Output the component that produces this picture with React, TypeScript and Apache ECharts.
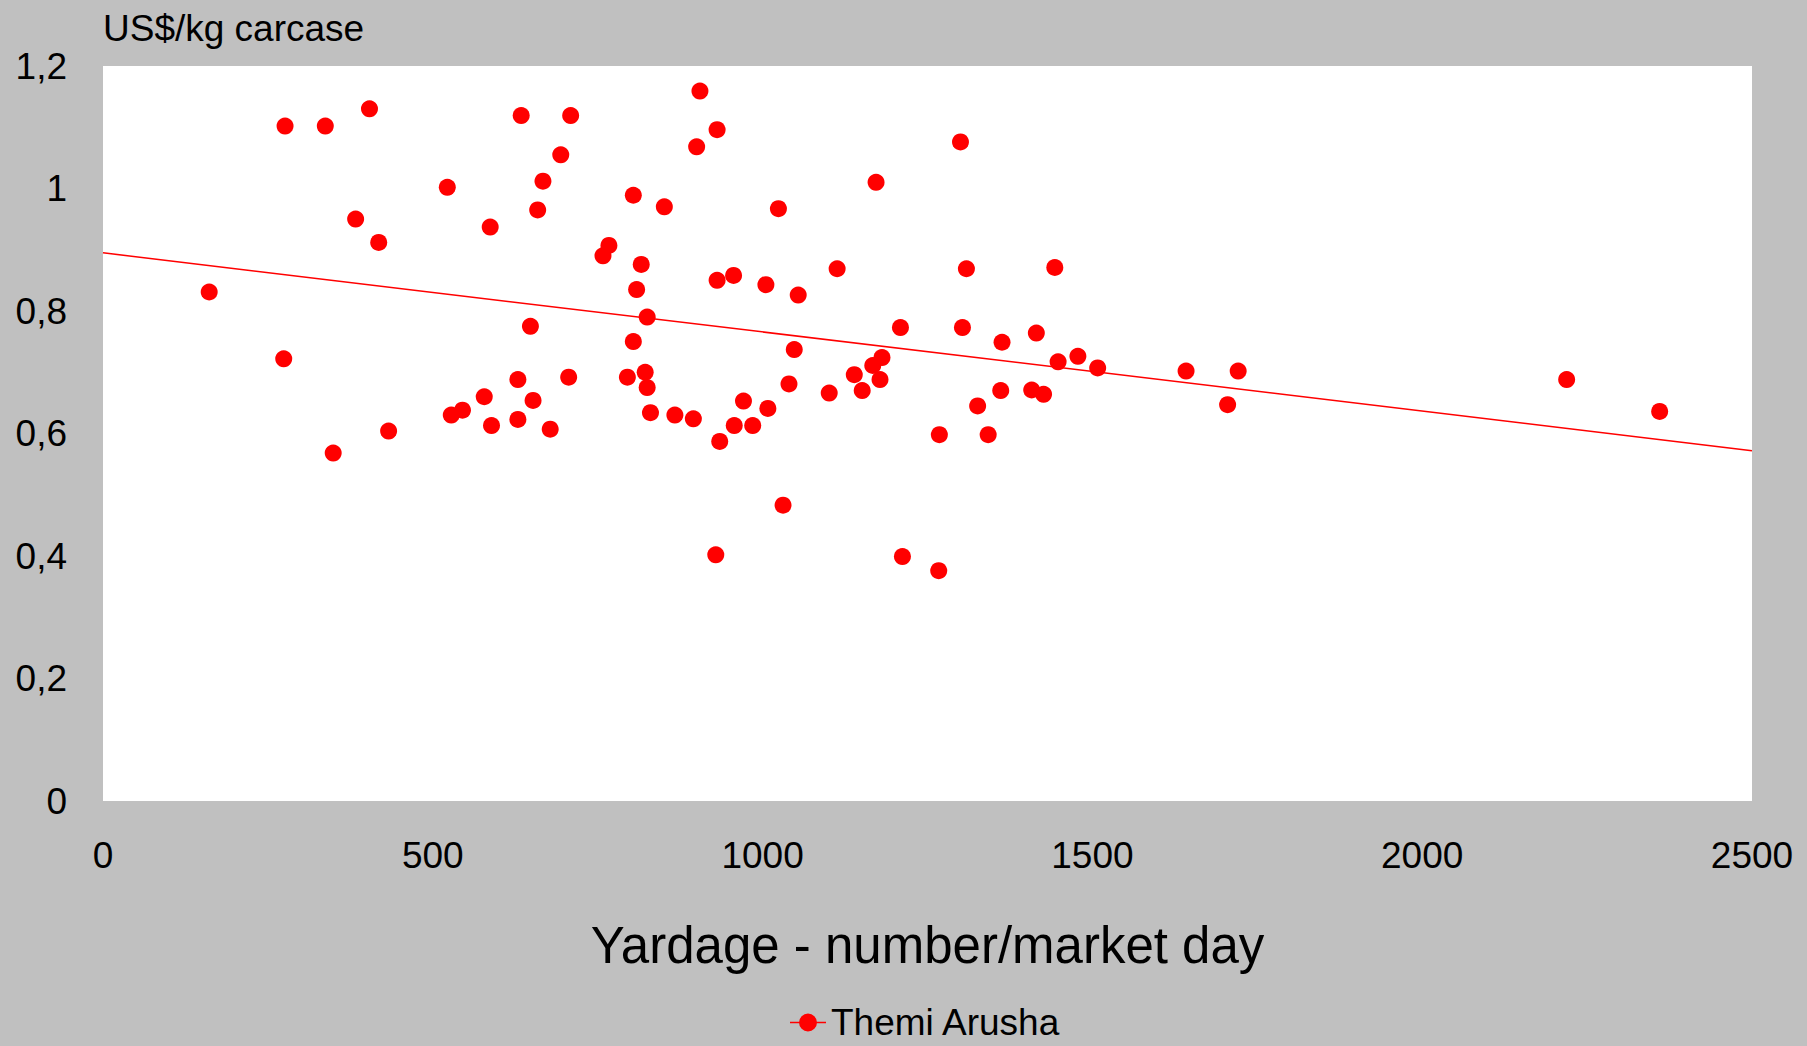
import React, { useEffect, useRef } from "react";
import * as echarts from "echarts";

const yardage: number[] = [
  161, 276, 337, 404, 274, 383, 418, 349, 433, 522,
  528, 545, 578, 589, 587, 629, 629, 634, 648, 652,
  659, 667, 678, 694, 706, 709, 758, 767, 795, 804,
  804, 809, 816, 822, 825, 825, 830, 851, 867, 895,
  900, 905, 929, 931, 931, 935, 956, 957, 971, 985,
  1005, 1008, 1024, 1031, 1040, 1048, 1054, 1101, 1113, 1139,
  1151, 1167, 1172, 1178, 1181, 1209, 1212, 1267, 1268, 1300,
  1303, 1309, 1326, 1342, 1361, 1363, 1408, 1415, 1426, 1443,
  1448, 1478, 1508, 1642, 1705, 1721, 2219, 2360,
];

const price: number[] = [
  0.831, 1.102, 1.102, 1.13, 0.722, 0.95, 0.912, 0.568, 0.604, 1.002,
  0.63, 0.638, 0.66, 0.613, 0.937, 0.688, 0.623, 1.119, 0.775, 0.654,
  0.965, 1.012, 0.607, 1.055, 0.692, 1.119, 0.89, 0.907, 0.692, 0.989,
  0.75, 0.835, 0.876, 0.7, 0.79, 0.675, 0.634, 0.97, 0.63, 0.624,
  1.068, 1.159, 0.402, 1.096, 0.85, 0.587, 0.858, 0.613, 0.653, 0.613,
  0.843, 0.641, 0.967, 0.483, 0.681, 0.737, 0.826, 0.666, 0.869, 0.696,
  0.67, 0.711, 1.01, 0.688, 0.724, 0.773, 0.399, 0.376, 0.598, 1.076,
  0.773, 0.869, 0.645, 0.598, 0.67, 0.749, 0.671, 0.764, 0.664, 0.871,
  0.717, 0.726, 0.707, 0.702, 0.647, 0.702, 0.688, 0.636,
];

const trendX: number[] = [0, 2500];
const trendY: number[] = [0.895, 0.572];

const seriesName = "Themi Arusha";
const xTitle = "Yardage - number/market day";
const yTitle = "US$/kg carcase";
const yTicks: number[] = [0, 0.2, 0.4, 0.6, 0.8, 1, 1.2];
const xTicks: number[] = [0, 500, 1000, 1500, 2000, 2500];

const FONT = "'Liberation Sans', Arial, Helvetica, sans-serif";
const RED = "#ff0000";

export default function App() {
  const ref = useRef<HTMLDivElement | null>(null);

  useEffect(() => {
    if (!ref.current) return;
    const chart = echarts.init(ref.current, null, { renderer: "svg" });
    const points = yardage.map((x, i) => [x, price[i]]);
    const trend = trendX.map((x, i) => [x, trendY[i]]);
    const fmtY = (v: number) => String(Math.round(v * 10) / 10).replace(".", ",");
    const fmtX = (v: number) => String(Math.round(v));

    chart.setOption({
      animation: false,
      backgroundColor: "#c0c0c0",
      textStyle: { fontFamily: FONT },
      grid: {
        left: 103,
        top: 66,
        width: 1649,
        height: 735,
        show: true,
        backgroundColor: "#ffffff",
        borderWidth: 0,
      },
      legend: {
        data: [
          {
            name: seriesName,
            icon: "path://M0,8.25h9.5v1.5h-9.5z M26.5,8.25h9.5v1.5h-9.5z M9,9a9,9 0 1,1 18,0a9,9 0 1,1 -18,0z",
          },
        ],
        left: 790,
        top: 1004,
        padding: 0,
        itemWidth: 36,
        itemHeight: 18,
        itemGap: 6,
        textStyle: { fontFamily: FONT, fontSize: 37, color: "#000", lineHeight: 36 },
      },
      xAxis: {
        type: "value",
        min: xTicks[0],
        max: xTicks[xTicks.length - 1],
        interval: 500,
        name: xTitle,
        nameLocation: "middle",
        nameGap: 144,
        nameTextStyle: { fontFamily: FONT, fontSize: 51, color: "#000", verticalAlign: "middle" },
        axisLine: { show: false },
        axisTick: { show: false },
        splitLine: { show: false },
        axisLabel: {
          margin: 54,
          verticalAlign: "middle",
          fontFamily: FONT,
          fontSize: 37,
          color: "#000",
          showMinLabel: true,
          showMaxLabel: true,
          formatter: (v: number) => fmtX(v),
        },
      },
      yAxis: {
        type: "value",
        min: yTicks[0],
        max: yTicks[yTicks.length - 1],
        interval: 0.2,
        name: yTitle,
        nameLocation: "end",
        nameGap: 38,
        nameTextStyle: {
          fontFamily: FONT,
          fontSize: 37,
          color: "#000",
          align: "left",
          verticalAlign: "middle",
        },
        axisLine: { show: false },
        axisTick: { show: false },
        splitLine: { show: false },
        axisLabel: {
          margin: 36,
          fontFamily: FONT,
          fontSize: 37,
          color: "#000",
          formatter: (v: number) => fmtY(v),
        },
      },
      series: [
        {
          name: "trend",
          type: "line",
          data: trend,
          showSymbol: false,
          symbol: "none",
          lineStyle: { color: RED, width: 1.5 },
          silent: true,
          z: 1,
        },
        {
          name: seriesName,
          type: "scatter",
          data: points,
          symbol: "circle",
          symbolSize: 17,
          itemStyle: { color: RED, opacity: 1 },
          z: 2,
        },
      ],
    });

    return () => {
      chart.dispose();
    };
  }, []);

  return (
    <div
      ref={ref}
      style={{ position: "fixed", left: 0, top: 0, width: 1807, height: 1046 }}
    />
  );
}
